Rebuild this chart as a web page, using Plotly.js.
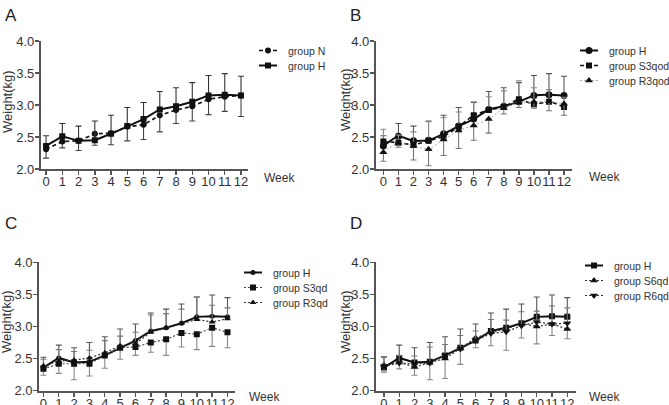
<!DOCTYPE html>
<html>
<head>
<meta charset="utf-8">
<script src="https://cdn.plot.ly/plotly-3.0.1.min.js"></script>
<style>html,body{margin:0;padding:0;background:#fff}#chart{width:669px;height:405px}</style>
</head>
<body>
<div id="chart"></div>
<script>
// ---- data ----
const weeks = [0,1,2,3,4,5,6,7,8,9,10,11,12];
const weekTickLabels = ["0","1","2","3","4","5","6","7","8","9","10","11","12"];
const weightTicks = [2.0, 2.5, 3.0, 3.5, 4.0];
const weightTickLabels = ["2.0","2.5","3.0","3.5","4.0"];
const panelLabels = ["A","B","C","D"];

const groupH    = [2.36, 2.51, 2.44, 2.45, 2.55, 2.67, 2.78, 2.93, 2.98, 3.05, 3.15, 3.16, 3.15];
const groupHErr = [0.16, 0.20, 0.23, 0.30, 0.29, 0.29, 0.26, 0.28, 0.29, 0.30, 0.31, 0.33, 0.30];

const groupN    = [2.31, 2.43, 2.44, 2.55, 2.56, 2.66, 2.69, 2.84, 2.92, 2.98, 3.09, 3.13, 3.15];
const groupNErr = [0.14, 0.10, 0.15, 0.18, 0.18, 0.22, 0.23, 0.26, 0.21, 0.23, 0.24, 0.23, 0.33];

const groupS3qod    = [2.43, 2.41, 2.38, 2.44, 2.51, 2.66, 2.84, 2.92, 2.97, 3.09, 3.01, 3.05, 2.97];
const groupS3qodErr = [0.19, 0.12, 0.20, 0.30, 0.29, 0.23, 0.21, 0.21, 0.25, 0.29, 0.26, 0.19, 0.15];
const groupR3qod    = [2.26, 2.41, 2.36, 2.31, 2.46, 2.60, 2.68, 2.78, 2.95, 3.04, 3.05, 3.06, 3.02];
const groupR3qodErr = [0.14, 0.07, 0.22, 0.26, 0.25, 0.28, 0.23, 0.22, 0.09, 0.08, 0.10, 0.15, 0.18];

const groupS3qd    = [2.34, 2.42, 2.42, 2.42, 2.55, 2.67, 2.68, 2.75, 2.80, 2.90, 2.88, 2.98, 2.91];
const groupS3qdErr = [0.10, 0.15, 0.25, 0.19, 0.20, 0.18, 0.13, 0.15, 0.25, 0.22, 0.24, 0.29, 0.24];
const groupR3qd    = [2.39, 2.46, 2.48, 2.51, 2.59, 2.70, 2.73, 2.91, 2.98, 3.05, 3.11, 3.07, 3.12];
const groupR3qdErr = [0.10, 0.18, 0.13, 0.12, 0.19, 0.15, 0.18, 0.27, 0.22, 0.22, 0.35, 0.26, 0.17];

const groupS6qd    = [2.40, 2.44, 2.37, 2.44, 2.50, 2.66, 2.82, 2.91, 2.96, 3.05, 3.00, 3.04, 2.96];
const groupS6qdErr = [0.11, 0.10, 0.13, 0.27, 0.31, 0.25, 0.15, 0.21, 0.33, 0.23, 0.27, 0.18, 0.15];
const groupR6qd    = [2.38, 2.43, 2.42, 2.43, 2.55, 2.65, 2.78, 2.89, 2.92, 3.01, 3.07, 3.04, 3.05];
const groupR6qdErr = [0.15, 0.12, 0.12, 0.25, 0.17, 0.21, 0.15, 0.22, 0.18, 0.22, 0.17, 0.28, 0.24];

// ---- helpers ----
const W = 669, H = 405;
const FONT = "Liberation Sans, Arial, sans-serif";
const zeros = weeks.map(() => 0);

function series(name, y, err, up, ax, leg, opts) {
  return {
    type: "scatter", mode: "lines+markers", name: name,
    x: weeks, y: y, xaxis: "x" + ax, yaxis: "y" + ax, legend: leg,
    line: Object.assign({color: "#111", width: 1.6}, opts.line || {}),
    marker: Object.assign({color: "#111", size: 6}, opts.marker || {}),
    error_y: {type: "data", symmetric: false,
      array: up ? err : zeros, arrayminus: up ? zeros : err,
      color: opts.errColor || "#444", thickness: 1.1, width: 3, visible: true}
  };
}

const traces = [
  // A
  series("group N", groupN, groupNErr, false, "", "legend",
    {line: {dash: "4px,3px"}, marker: {symbol: "circle", size: 6}, errColor: "#444"}),
  series("group H", groupH, groupHErr, true, "", "legend",
    {line: {width: 2}, marker: {symbol: "square", size: 6}, errColor: "#333"}),
  // B
  series("group H", groupH, groupHErr, true, "2", "legend2",
    {line: {width: 2, shape: "spline", smoothing: 0.5}, marker: {symbol: "circle", size: 7}, errColor: "#555"}),
  series("group S3qod", groupS3qod, groupS3qodErr, true, "2", "legend2",
    {line: {dash: "4px,3px", shape: "spline", smoothing: 0.5}, marker: {symbol: "square", size: 6}, errColor: "#888"}),
  series("group R3qod", groupR3qod, groupR3qodErr, false, "2", "legend2",
    {line: {color: "#aaa", width: 1, dash: "2px,2px", shape: "spline", smoothing: 0.5}, marker: {symbol: "triangle-up", size: 7}, errColor: "#777"}),
  // C
  series("group H", groupH, groupHErr, true, "3", "legend3",
    {line: {width: 2}, marker: {symbol: "circle", size: 5}, errColor: "#555"}),
  series("group S3qd", groupS3qd, groupS3qdErr, false, "3", "legend3",
    {line: {color: "#444", width: 1.2, dash: "2px,2px"}, marker: {symbol: "square", size: 6}, errColor: "#888"}),
  series("group R3qd", groupR3qd, groupR3qdErr, true, "3", "legend3",
    {line: {color: "#333", width: 1.2, dash: "2px,2px"}, marker: {symbol: "triangle-up", size: 6}, errColor: "#777"}),
  // D
  series("group H", groupH, groupHErr, true, "4", "legend4",
    {line: {width: 2}, marker: {symbol: "square", size: 6}, errColor: "#555"}),
  series("group S6qd", groupS6qd, groupS6qdErr, false, "4", "legend4",
    {line: {color: "#333", width: 1.2, dash: "2px,2px"}, marker: {symbol: "triangle-up", size: 7}, errColor: "#888"}),
  series("group R6qd", groupR6qd, groupR6qdErr, true, "4", "legend4",
    {line: {color: "#333", width: 1.2, dash: "2px,2px"}, marker: {symbol: "triangle-down", size: 7}, errColor: "#777"})
];

// panel geometry in pixels
const panels = [
  {l: 40.7, r: 248, xr: [-0.33, 12.43], t: 41,    b: 169,   leg: [248, 36],   week: [262, 178], ytl: [7, 102],   lab: [3, 15]},
  {l: 375.7, r: 572, xr: [-0.51, 12.53], t: 41,   b: 169,   leg: [569, 36],   week: [587, 177], ytl: [345, 100], lab: [348, 15]},
  {l: 39, r: 235, xr: [-0.29, 12.49], t: 262.3,   b: 390.7, leg: [233, 258],  week: [247, 397], ytl: [6, 322],   lab: [3, 223]},
  {l: 375.7, r: 576, xr: [-0.54, 12.57], t: 262.3, b: 390.7, leg: [574, 251], week: [587, 397], ytl: [345, 322], lab: [348, 223]}
];
const legendIds = ["legend", "legend2", "legend3", "legend4"];

const layout = {
  width: W, height: H,
  margin: {l: 0, r: 0, t: 0, b: 0},
  paper_bgcolor: "#fff", plot_bgcolor: "rgba(0,0,0,0)",
  font: {family: FONT, color: "#333", size: 12},
  showlegend: true,
  annotations: []
};

const axisCommon = {
  showline: true, linecolor: "#555", linewidth: 1.8,
  ticks: "outside", ticklen: 4, tickwidth: 1.4, tickcolor: "#555",
  showgrid: false, zeroline: false, fixedrange: true,
  tickfont: {family: FONT, size: 13, color: "#333"}
};

panels.forEach((p, i) => {
  const sfx = i === 0 ? "" : String(i + 1);
  layout["xaxis" + sfx] = Object.assign({}, axisCommon, {
    domain: [p.l / W, p.r / W], range: p.xr,
    tickvals: weeks, ticktext: weekTickLabels, tickangle: 0,
    anchor: "y" + sfx, ticklen: 4, ticklabelstandoff: -4,
    tickfont: {family: FONT, size: 13, color: "#333"}
  });
  layout["yaxis" + sfx] = Object.assign({}, axisCommon, {
    domain: [(H - p.b) / H, (H - p.t) / H], range: [2, 4],
    tickvals: weightTicks, ticktext: weightTickLabels,
    anchor: "x" + sfx, ticklabelstandoff: -2
  });
  layout[legendIds[i]] = {
    x: Math.min(p.leg[0], 560) / W, y: (H - p.leg[1]) / H, xanchor: "left", yanchor: "top",
    bgcolor: "rgba(0,0,0,0)", borderwidth: 0,
    font: {family: FONT, size: 10.5, color: "#333"},
    tracegroupgap: 0, itemwidth: 30
  };
  layout.annotations.push({
    text: "Week", xref: "paper", yref: "paper",
    x: p.week[0] / W, y: (H - p.week[1]) / H, xanchor: "left", yanchor: "middle",
    showarrow: false, font: {family: FONT, size: 12, color: "#333"}
  });
  layout.annotations.push({
    text: "Weight(kg)", xref: "paper", yref: "paper", textangle: -90,
    x: p.ytl[0] / W, y: (H - p.ytl[1]) / H, xanchor: "center", yanchor: "middle",
    showarrow: false, font: {family: FONT, size: 13, color: "#333"}
  });
  layout.annotations.push({
    text: panelLabels[i], xref: "paper", yref: "paper",
    x: p.lab[0] / W, y: (H - p.lab[1]) / H, xanchor: "left", yanchor: "middle",
    showarrow: false, font: {family: FONT, size: 17, color: "#222"}
  });
});

Plotly.newPlot("chart", traces, layout, {displayModeBar: false, staticPlot: true}).then(() => {
  // compact legends like the reference: 15px rows, short line samples, exact left position
  const ROW = 15;
  legendIds.forEach((id, i) => {
    const leg = document.querySelector("g." + id);
    if (!leg) return;
    const lm = /translate\(\s*([-\d.]+)[ ,]+([-\d.]+)\s*\)/.exec(leg.getAttribute("transform") || "");
    if (lm) leg.setAttribute("transform", "translate(" + panels[i].leg[0] + "," + parseFloat(lm[2]) + ")");
    const clip = leg.querySelector("clipPath rect");
    const items = Array.from(leg.querySelectorAll("g.traces"));
    let y0 = null;
    items.forEach((it, k) => {
      const m = /translate\(\s*([-\d.]+)[ ,]+([-\d.]+)\s*\)/.exec(it.getAttribute("transform") || "");
      if (!m) return;
      const x = parseFloat(m[1]), y = parseFloat(m[2]);
      if (y0 === null) y0 = y;
      it.setAttribute("transform", "translate(" + x + "," + (y0 + k * ROW) + ")");
    });
    leg.querySelectorAll("g.legendlines path").forEach(p => p.setAttribute("d", "M11,0h18"));
  });
  // make sure no legend clip hides text that runs to the page edge
  document.querySelectorAll("g.scrollbox").forEach(g => g.removeAttribute("clip-path"));
});
</script>
</body>
</html>
